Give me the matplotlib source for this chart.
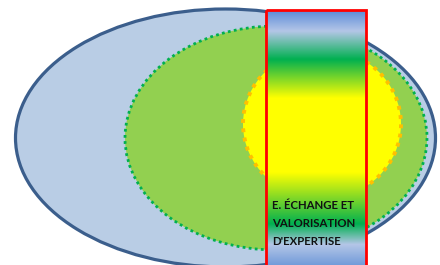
import numpy as np
import matplotlib
matplotlib.use('Agg')
import matplotlib.pyplot as plt
from matplotlib.patches import Ellipse, Rectangle
from matplotlib.colors import LinearSegmentedColormap

# Ellipses (centre x, centre y, width, height) in pixel units of the 440x265 picture
ellipse_names = ['exterieur', 'intermediaire', 'coeur']
ellipse_centres = [(225.5, 138), (276, 138), (322, 124)]
ellipse_sizes = [(420, 258), (302, 224), (158, 150)]

# Bande verticale et son libellé
band_x = [266, 366]
band_y = [10, 268]
band_label = "E. ÉCHANGE ET\nVALORISATION\nD'EXPERTISE"

# Dégradé de la bande (position 0 = haut, 1 = bas)
grad_pos = [0.0, 0.08, 0.19, 0.34, 0.63, 0.83, 0.91, 1.0]
grad_col = ['#5b8bd8', '#b4c6e7', '#00b050', '#ffff00', '#ffff00',
            '#00b050', '#b4c6e7', '#6a96d8']

fig = plt.figure(figsize=(4.4, 2.65), dpi=100)
ax = fig.add_axes([0, 0, 1, 1])
ax.set_xlim(0, 440)
ax.set_ylim(265, 0)
ax.axis('off')

# Ellipse extérieure
ax.add_patch(Ellipse(ellipse_centres[0], *ellipse_sizes[0],
                     facecolor='#b9cde5', edgecolor='#3b5e8c', lw=2.3, zorder=1))
# Ellipse verte pointillée
ax.add_patch(Ellipse(ellipse_centres[1], *ellipse_sizes[1],
                     facecolor='#92d050', edgecolor='none', zorder=2))
ax.add_patch(Ellipse(ellipse_centres[1], *ellipse_sizes[1], fill=False,
                     edgecolor='#00b050', lw=2.0, linestyle=(0, (1, 1.2)), zorder=3))
# Ellipse jaune pointillée
ax.add_patch(Ellipse(ellipse_centres[2], *ellipse_sizes[2],
                     facecolor='#ffff00', edgecolor='none', zorder=4))
ax.add_patch(Ellipse(ellipse_centres[2], *ellipse_sizes[2], fill=False,
                     edgecolor='#ffc000', lw=2.8, linestyle=(0, (1, 1.4)), zorder=5))

# Bande avec dégradé vertical
cmap = LinearSegmentedColormap.from_list('bande', list(zip(grad_pos, grad_col)))
grad = np.linspace(0, 1, 256).reshape(-1, 1)
ax.imshow(grad, cmap=cmap, aspect='auto', interpolation='bilinear',
          extent=[band_x[0], band_x[1], band_y[1], band_y[0]], zorder=6)
ax.add_patch(Rectangle((band_x[0], band_y[0]), band_x[1] - band_x[0],
                       band_y[1] - band_y[0], fill=False,
                       edgecolor='#ff0000', lw=2, zorder=7))

ax.text(band_x[0] + 6, 200, band_label, ha='left', va='top',
        fontsize=8.2, fontweight='bold', family='Lato', color='#111111',
        linespacing=1.8, zorder=8)

fig.savefig('out.png', dpi=100)
